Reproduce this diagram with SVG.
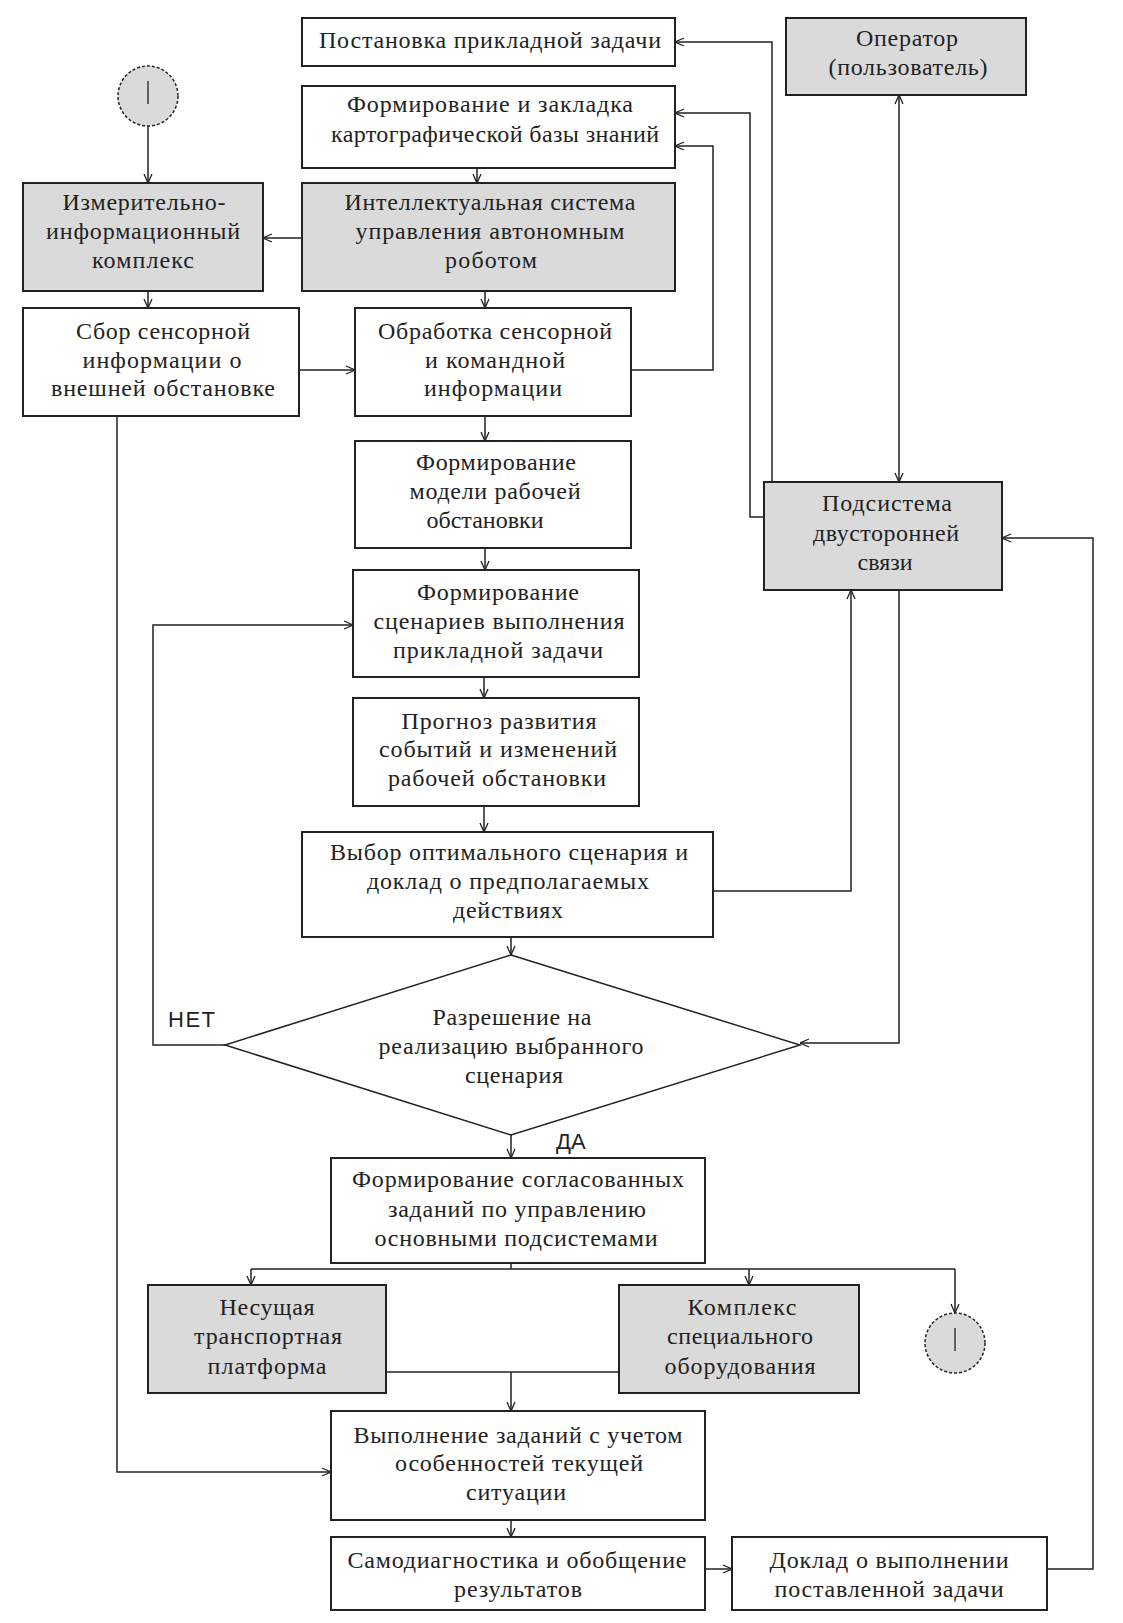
<svg xmlns="http://www.w3.org/2000/svg" width="1123" height="1623" viewBox="0 0 1123 1623">
<defs>
<style>
.b{fill:#fff;stroke:#222;stroke-width:2}
.g{fill:#dadada;stroke:#222;stroke-width:2}
.t{font-family:"Liberation Serif","Times New Roman",serif;font-size:24px;fill:#222;text-anchor:middle}
.s{font-family:"Liberation Sans",Arial,sans-serif;font-size:22px;fill:#222}
.c{fill:none;stroke:#222;stroke-width:1.5}
.a{marker-end:url(#ar)}
.k{fill:#dadada;stroke:#222;stroke-width:1.5;stroke-dasharray:3 2}
</style>
<marker id="ar" viewBox="0 0 10 10" refX="10" refY="5" markerWidth="10" markerHeight="10" markerUnits="userSpaceOnUse" orient="auto-start-reverse">
<path d="M1,1 L10,5 L1,9" fill="none" stroke="#222" stroke-width="1.3"/>
</marker>
</defs>
<rect width="1123" height="1623" fill="#fff"/>

<g id="connectors">
<path class="c a" d="M148,126 V183"/>
<path class="c a" d="M477,168 V183"/>
<path class="c a" d="M302,238 H263"/>
<path class="c a" d="M148,291 V308"/>
<path class="c a" d="M485,291 V308"/>
<path class="c a" d="M299,370 H355"/>
<path class="c a" d="M631,370 H713 V146 H675"/>
<path class="c a" d="M764,517 H750 V113 H675"/>
<path class="c a" d="M772,482 V42 H675"/>
<path class="c" d="M899,95 V482" marker-start="url(#ar)" marker-end="url(#ar)"/>
<path class="c a" d="M485,416 V441"/>
<path class="c a" d="M485,548 V570"/>
<path class="c a" d="M484,677 V698"/>
<path class="c a" d="M484,806 V832"/>
<path class="c a" d="M713,891 H851 V590"/>
<path class="c a" d="M511,937 V955"/>
<path class="c a" d="M899,590 V1043 H800"/>
<path class="c a" d="M225,1045 H153 V625 H353"/>
<path class="c a" d="M511,1135 V1158"/>
<path class="c" d="M511,1263 V1269 M251,1269 H955"/>
<path class="c a" d="M251,1269 V1285"/>
<path class="c a" d="M749,1269 V1285"/>
<path class="c a" d="M955,1269 V1313"/>
<path class="c" d="M386,1372 H619" stroke-width="2"/>
<path class="c a" d="M511,1372 V1411"/>
<path class="c a" d="M117,416 V1472 H331"/>
<path class="c a" d="M511,1520 V1537"/>
<path class="c a" d="M705,1569 H732"/>
<path class="c a" d="M1047,1569 H1093 V538 H1002"/>
</g>

<g id="n_postanovka"><rect class="b" x="302" y="18" width="373" height="48"/>
<text class="t" x="490" y="48" textLength="342" lengthAdjust="spacing">Постановка прикладной задачи</text></g>

<g id="n_operator"><rect class="g" x="786" y="18" width="240" height="77"/>
<text class="t" x="907" y="46" textLength="102" lengthAdjust="spacing">Оператор</text>
<text class="t" x="908" y="75" textLength="159" lengthAdjust="spacing">(пользователь)</text></g>

<g id="n_kb"><rect class="b" x="302" y="86" width="373" height="82"/>
<text class="t" x="490" y="112" textLength="286" lengthAdjust="spacing">Формирование и закладка</text>
<text class="t" x="495" y="142" textLength="328" lengthAdjust="spacing">картографической базы знаний</text></g>

<g id="conn_top"><circle class="k" cx="148" cy="96" r="30"/>
<line x1="148" y1="81" x2="148" y2="104" stroke="#222" stroke-width="1.3"/></g>

<g id="n_iik"><rect class="g" x="23" y="183" width="240" height="108"/>
<text class="t" x="144" y="210" textLength="163" lengthAdjust="spacing">Измерительно-</text>
<text class="t" x="143" y="239" textLength="194" lengthAdjust="spacing">информационный</text>
<text class="t" x="143" y="268" textLength="102" lengthAdjust="spacing">комплекс</text></g>

<g id="n_isu"><rect class="g" x="302" y="183" width="373" height="108"/>
<text class="t" x="490" y="210" textLength="291" lengthAdjust="spacing">Интеллектуальная система</text>
<text class="t" x="490" y="239" textLength="269" lengthAdjust="spacing">управления автономным</text>
<text class="t" x="491" y="268" textLength="92" lengthAdjust="spacing">роботом</text></g>

<g id="n_sbor"><rect class="b" x="23" y="308" width="276" height="108"/>
<text class="t" x="163" y="339" textLength="174" lengthAdjust="spacing">Сбор сенсорной</text>
<text class="t" x="162" y="368" textLength="159" lengthAdjust="spacing">информации о</text>
<text class="t" x="163" y="396" textLength="224" lengthAdjust="spacing">внешней обстановке</text></g>

<g id="n_obr"><rect class="b" x="355" y="308" width="276" height="108"/>
<text class="t" x="495" y="339" textLength="234" lengthAdjust="spacing">Обработка сенсорной</text>
<text class="t" x="495" y="368" textLength="140" lengthAdjust="spacing">и командной</text>
<text class="t" x="493" y="396" textLength="138" lengthAdjust="spacing">информации</text></g>

<g id="n_model"><rect class="b" x="355" y="441" width="276" height="107"/>
<text class="t" x="496" y="470" textLength="160" lengthAdjust="spacing">Формирование</text>
<text class="t" x="495" y="499" textLength="171" lengthAdjust="spacing">модели рабочей</text>
<text class="t" x="485" y="528">обстановки</text></g>

<g id="n_scen"><rect class="b" x="353" y="570" width="286" height="107"/>
<text class="t" x="498" y="600" textLength="162" lengthAdjust="spacing">Формирование</text>
<text class="t" x="499" y="629" textLength="251" lengthAdjust="spacing">сценариев выполнения</text>
<text class="t" x="498" y="658" textLength="210" lengthAdjust="spacing">прикладной задачи</text></g>

<g id="n_prog"><rect class="b" x="353" y="698" width="286" height="108"/>
<text class="t" x="499" y="729" textLength="195" lengthAdjust="spacing">Прогноз развития</text>
<text class="t" x="498" y="757" textLength="238" lengthAdjust="spacing">событий и изменений</text>
<text class="t" x="497" y="786" textLength="218" lengthAdjust="spacing">рабочей обстановки</text></g>

<g id="n_vybor"><rect class="b" x="302" y="832" width="411" height="105"/>
<text class="t" x="509" y="860" textLength="358" lengthAdjust="spacing">Выбор оптимального сценария и</text>
<text class="t" x="508" y="889" textLength="282" lengthAdjust="spacing">доклад о предполагаемых</text>
<text class="t" x="508" y="918" textLength="110" lengthAdjust="spacing">действиях</text></g>

<g id="n_podsys"><rect class="g" x="764" y="482" width="238" height="108"/>
<text class="t" x="887" y="511" textLength="130" lengthAdjust="spacing">Подсистема</text>
<text class="t" x="886" y="541" textLength="146" lengthAdjust="spacing">двусторонней</text>
<text class="t" x="885" y="570">связи</text></g>

<g id="n_razr"><path d="M511,955 L800,1045 L511,1135 L225,1045 Z" fill="#fff" stroke="#222" stroke-width="1.5"/>
<text class="t" x="512" y="1025" textLength="159" lengthAdjust="spacing">Разрешение на</text>
<text class="t" x="511" y="1054" textLength="265" lengthAdjust="spacing">реализацию выбранного</text>
<text class="t" x="514" y="1083" textLength="98" lengthAdjust="spacing">сценария</text>
<text class="s" x="168" y="1027" textLength="47" lengthAdjust="spacing">НЕТ</text>
<text class="s" x="556" y="1149">ДА</text></g>

<g id="n_sogl"><rect class="b" x="331" y="1158" width="374" height="105"/>
<text class="t" x="518" y="1187" textLength="332" lengthAdjust="spacing">Формирование согласованных</text>
<text class="t" x="517" y="1217" textLength="258" lengthAdjust="spacing">заданий по управлению</text>
<text class="t" x="516" y="1246" textLength="283" lengthAdjust="spacing">основными подсистемами</text></g>

<g id="n_nes"><rect class="g" x="148" y="1285" width="238" height="108"/>
<text class="t" x="267" y="1315" textLength="95" lengthAdjust="spacing">Несущая</text>
<text class="t" x="268" y="1344" textLength="148" lengthAdjust="spacing">транспортная</text>
<text class="t" x="267" y="1374" textLength="119" lengthAdjust="spacing">платформа</text></g>

<g id="n_kompl"><rect class="g" x="619" y="1285" width="240" height="108"/>
<text class="t" x="742" y="1315" textLength="109" lengthAdjust="spacing">Комплекс</text>
<text class="t" x="740" y="1344" textLength="146" lengthAdjust="spacing">специального</text>
<text class="t" x="740" y="1374" textLength="151" lengthAdjust="spacing">оборудования</text></g>

<g id="conn_bottom"><circle class="k" cx="955" cy="1343" r="30"/>
<line x1="955" y1="1328" x2="955" y2="1351" stroke="#222" stroke-width="1.3"/></g>

<g id="n_vyp"><rect class="b" x="331" y="1411" width="374" height="109"/>
<text class="t" x="518" y="1443" textLength="329" lengthAdjust="spacing">Выполнение заданий с учетом</text>
<text class="t" x="519" y="1471" textLength="248" lengthAdjust="spacing">особенностей текущей</text>
<text class="t" x="516" y="1500" textLength="100" lengthAdjust="spacing">ситуации</text></g>

<g id="n_samo"><rect class="b" x="331" y="1537" width="374" height="73"/>
<text class="t" x="517" y="1568" textLength="339" lengthAdjust="spacing">Самодиагностика и обобщение</text>
<text class="t" x="518" y="1597" textLength="128" lengthAdjust="spacing">результатов</text></g>

<g id="n_doklad"><rect class="b" x="732" y="1537" width="315" height="73"/>
<text class="t" x="889" y="1568" textLength="239" lengthAdjust="spacing">Доклад о выполнении</text>
<text class="t" x="889" y="1597" textLength="229" lengthAdjust="spacing">поставленной задачи</text></g>
</svg>
